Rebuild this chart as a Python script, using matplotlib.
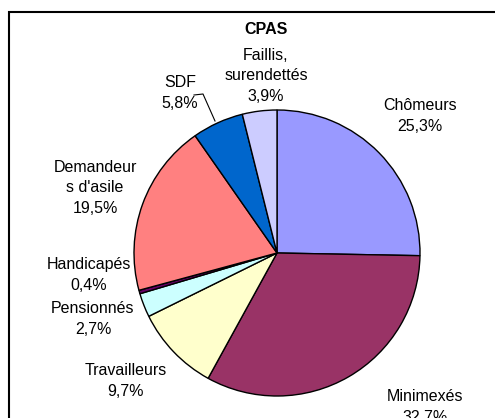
import matplotlib
matplotlib.use("Agg")
import matplotlib.pyplot as plt
from matplotlib.patches import Rectangle

plt.rcParams['font.family'] = ['Liberation Sans', 'DejaVu Sans']

categories = ["Chômeurs", "Minimexés", "Travailleurs", "Pensionnés",
              "Handicapés", "Demandeur\ns d'asile", "SDF", "Faillis,\nsurendettés"]
values = [25.3, 32.7, 9.7, 2.7, 0.4, 19.5, 5.8, 3.9]
colors = ["#9999FF", "#993366", "#FFFFCC", "#CCFFFF", "#660066", "#FF8080", "#0066CC", "#CCCCFF"]
title = "CPAS"

W, H = 495, 418
fig = plt.figure(figsize=(W / 100, H / 100), dpi=100)
fig.patch.set_facecolor("white")

# figure frame (cropped on right/bottom)
fig.patches.append(Rectangle((9 / W, 1 - 600 / H), 700 / W, (600 - 12) / H,
                             transform=fig.transFigure, fill=False,
                             edgecolor="black", linewidth=1.5, clip_on=False))

cx, cy, r = 277, 253, 143
ax = fig.add_axes([(cx - r) / W, 1 - (cy + r) / H, 2 * r / W, 2 * r / H])
ax.pie(values, colors=colors, startangle=90, counterclock=False,
       wedgeprops=dict(edgecolor="black", linewidth=1.0))
ax.set_xlim(-1, 1)
ax.set_ylim(-1, 1)
ax.set_aspect("equal")
ax.axis("off")

def ftext(x, y, s, **kw):
    fig.text(x / W, 1 - y / H, s, ha="center", va="center", fontsize=11.5,
             linespacing=1.45, **kw)

label_pos = [(420, 116), (425, 407), (126, 381), (93, 319),
             (89, 275), (95, 188), (180, 93), (266, 76)]
for (x, y), name, v in zip(label_pos, categories, values):
    ftext(x, y, f"{name}\n{v:.1f}%".replace(".", ","))

ftext(266, 30, title, fontweight="bold")

# leader line for SDF
fig.add_artist(plt.Line2D([194 / W, 203 / W, 215 / W],
                          [1 - 95 / H, 1 - 94 / H, 1 - 121 / H],
                          color="black", linewidth=0.8))

fig.savefig("out.png", dpi=100)
